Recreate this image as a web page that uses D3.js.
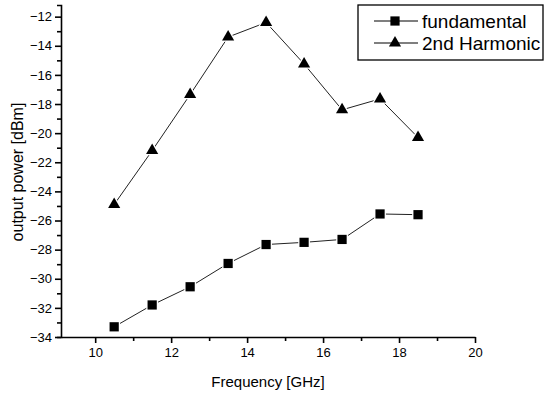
<!DOCTYPE html>
<html>
<head>
<meta charset="utf-8">
<script src="https://cdnjs.cloudflare.com/ajax/libs/d3/7.8.5/d3.min.js"></script>
<style>
  body { margin: 0; background: #fff; }
  svg { display: block; font-family: Arial, "Liberation Sans", sans-serif; }
</style>
</head>
<body>
<div class="chart"></div>
<script>
// data
const freqs = [10.5, 11.5, 12.5, 13.5, 14.5, 15.5, 16.5, 17.5, 18.5];
const fundamental = [-33.3, -31.8, -30.55, -28.95, -27.65, -27.5, -27.3, -25.55, -25.6];
const harmonic2 = [-24.9, -21.2, -17.35, -13.4, -12.4, -15.25, -18.4, -17.65, -20.3];
const seriesNames = ["fundamental", "2nd Harmonic"];
const xTicks = [10, 12, 14, 16, 18, 20];
const yTicks = [-34, -32, -30, -28, -26, -24, -22, -20, -18, -16, -14, -12];

const width = 546,
      height = 396;

const svg = d3.select(".chart")
  .append("svg")
  .attr("width", width)
  .attr("height", height);

// scales
const x = d3.scaleLinear().domain([9.1, 20]).range([61, 475]);
const y = d3.scaleLinear().domain([-34, -11.2]).range([337, 5]);

// minor ticks at odd values
const xMinor = d3.range(11, 20, 2);
const yMinor = d3.range(-33, -11, 2);

// x axis
svg.append("g")
  .attr("transform", `translate(0,${y(-34)})`)
  .call(d3.axisBottom(x).tickValues(xTicks).tickSize(6).tickSizeOuter(0).tickPadding(5));

svg.append("g")
  .attr("transform", `translate(0,${y(-34)})`)
  .call(d3.axisBottom(x).tickValues(xMinor).tickSize(4).tickSizeOuter(0).tickFormat(""))
  .select(".domain").remove();

// y axis
svg.append("g")
  .attr("transform", `translate(${x(9.1)},0)`)
  .call(d3.axisLeft(y).tickValues(yTicks).tickSize(6).tickSizeOuter(4).tickPadding(3));

svg.append("g")
  .attr("transform", `translate(${x(9.1)},0)`)
  .call(d3.axisLeft(y).tickValues(yMinor).tickSize(4).tickFormat(""))
  .select(".domain").remove();

svg.selectAll(".domain, .tick line")
  .attr("stroke", "#000")
  .attr("stroke-width", 1.6);

svg.selectAll(".tick text")
  .attr("fill", "#000")
  .style("font-size", "13px");

// axis titles
svg.append("text")
  .attr("x", (x(9.1) + x(20)) / 2)
  .attr("y", 387)
  .attr("text-anchor", "middle")
  .style("font-size", "15px")
  .text("Frequency [GHz]");

svg.append("text")
  .attr("transform", `translate(23,${(y(-34) + y(-11.2)) / 2 + 1}) rotate(-90)`)
  .attr("text-anchor", "middle")
  .style("font-size", "16px")
  .text("output power [dBm]");

// marker shapes
const square = d3.symbol().type(d3.symbolSquare).size(85);
const triangle = d3.symbol().type(d3.symbolTriangle).size(64);

const line = d3.line()
  .x(d => x(d[0]))
  .y(d => y(d[1]));

const drawSeries = (vals, sym) => {
  const pts = freqs.map((f, i) => [f, vals[i]]);

  svg.append("path")
    .datum(pts)
    .attr("fill", "none")
    .attr("stroke", "#222")
    .attr("stroke-width", 1)
    .attr("d", line);

  // white halo gives the small gap between line and marker
  svg.append("g")
    .selectAll("path")
    .data(pts)
    .enter()
      .append("path")
      .attr("transform", d => `translate(${x(d[0])},${y(d[1])})`)
      .attr("d", sym)
      .attr("fill", "#000")
      .attr("stroke", "#fff")
      .attr("stroke-width", 2.5)
      .attr("paint-order", "stroke");
};

drawSeries(fundamental, square);
drawSeries(harmonic2, triangle);

// legend
const legend = svg.append("g");

legend.append("rect")
  .attr("x", 358)
  .attr("y", 5)
  .attr("width", 185)
  .attr("height", 55)
  .attr("fill", "#fff")
  .attr("stroke", "#000")
  .attr("stroke-width", 1.3);

const legendRows = [
  { name: seriesNames[0], sym: square, cy: 21 },
  { name: seriesNames[1], sym: triangle, cy: 43 }
];

legendRows.forEach(r => {
  legend.append("line")
    .attr("x1", 374).attr("x2", 418)
    .attr("y1", r.cy).attr("y2", r.cy)
    .attr("stroke", "#000")
    .attr("stroke-width", 1.2);

  legend.append("path")
    .attr("transform", `translate(395,${r.cy})`)
    .attr("d", r.sym)
    .attr("fill", "#000");

  legend.append("text")
    .attr("x", 422)
    .attr("y", r.cy + 7)
    .style("font-size", "19px")
    .text(r.name);
});
</script>
</body>
</html>
